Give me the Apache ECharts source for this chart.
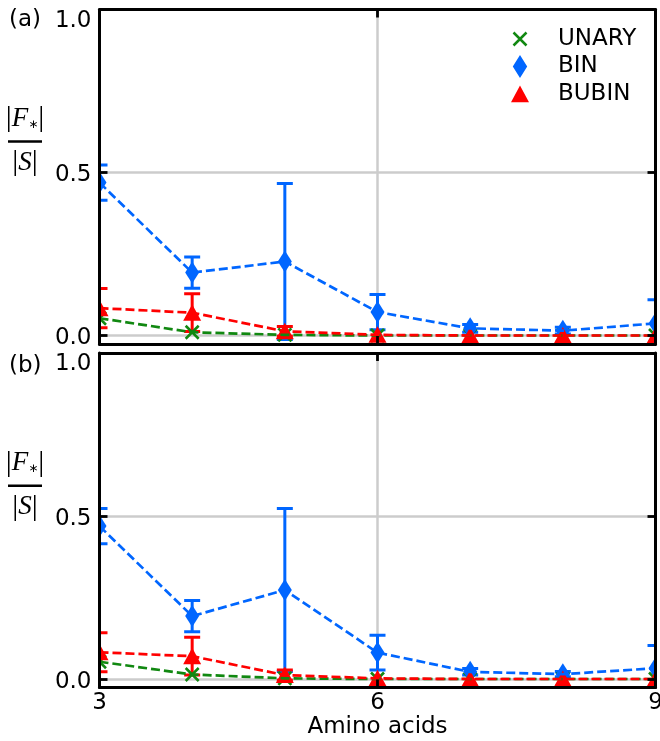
<!DOCTYPE html>
<html><head><meta charset="utf-8">
<script src="https://cdn.jsdelivr.net/npm/echarts@6/dist/echarts.min.js"></script>
<style>html,body{margin:0;padding:0;background:#fff}#c{width:660px;height:741px}</style>
</head><body><div id="c"></div>
<script>
// ---- data ----
const aminoAcids = [3, 4, 5, 6, 7, 8, 9];
const xTicks = [3, 6, 9];
const yTicks = [0, 0.5, 1.0];

const unaryA    = [0.053, 0.010, 0.002, 0.000, 0.000, 0.000, 0.000];
const unaryErrA = [0, 0, 0, 0, 0, 0, 0];
const binA      = [0.469, 0.193, 0.227, 0.072, 0.022, 0.015, 0.037];
const binErrA   = [0.054, 0.048, 0.239, 0.054, 0.012, 0.010, 0.073];
const bubinA    = [0.084, 0.070, 0.013, 0.002, 0.000, 0.000, 0.000];
const bubinErrA = [0.060, 0.058, 0.015, 0, 0, 0, 0];

const unaryB    = [0.053, 0.014, 0.002, 0.000, 0.000, 0.000, 0.000];
const unaryErrB = [0, 0, 0, 0, 0, 0, 0];
const binB      = [0.469, 0.193, 0.273, 0.081, 0.022, 0.015, 0.033];
const binErrB   = [0.054, 0.048, 0.250, 0.053, 0.010, 0.008, 0.070];
const bubinB    = [0.082, 0.070, 0.012, 0.002, 0.000, 0.000, 0.000];
const bubinErrB = [0.060, 0.058, 0.016, 0, 0, 0, 0];

const names = ['UNARY', 'BIN', 'BUBIN'];
const colors = ['#118811', '#0066ff', '#ff0000'];
const kinds = ['x', 'd', '^'];
// ---------------

const FONT = 'DejaVu Sans';
const chart = echarts.init(document.getElementById('c'), null, {renderer: 'canvas'});

function xAx(grid, pos, showLabel, name) {
  return {
    type: 'value', gridIndex: grid, position: pos, min: 3, max: 9, interval: 3, z: 5,
    name: name || '', nameLocation: 'middle', nameGap: 27,
    nameTextStyle: {fontSize: 23, color: '#000', fontFamily: FONT},
    axisLine: {show: true, onZero: false, lineStyle: {color: '#000', width: 3}},
    axisTick: {show: true, inside: true, length: 8, lineStyle: {color: '#000', width: 2.8}},
    axisLabel: {show: showLabel, margin: 4, fontSize: 23, color: '#000', fontFamily: FONT,
      showMinLabel: true, showMaxLabel: true},
    splitLine: {show: false}
  };
}
function yAx(grid, pos, showLabel) {
  return {
    type: 'value', gridIndex: grid, position: pos, min: -0.026, max: 1, z: 5,
    axisLine: {show: true, onZero: false, lineStyle: {color: '#000', width: 3}},
    axisTick: {show: true, inside: true, length: 8, customValues: yTicks, lineStyle: {color: '#000', width: 2.8}},
    axisLabel: {show: showLabel, customValues: yTicks, margin: 8, fontSize: 23, color: '#000', fontFamily: FONT,
      showMinLabel: true, showMaxLabel: true,
      formatter: function (v) { return (v === 1 ? '{t|' : '{n|') + v.toFixed(1) + '}'; },
      rich: {
        t: {padding: [23, 0, 0, 0], fontSize: 23, color: '#000', fontFamily: FONT},
        n: {padding: [6, 0, 0, 0], fontSize: 23, color: '#000', fontFamily: FONT}
      }},
    splitLine: {show: false}
  };
}

function errRender(color) {
  return function (params, api) {
    const x = api.value(0), y = api.value(1), e = api.value(2);
    if (!e) return null;
    const t = api.coord([x, y + e]), b = api.coord([x, y - e]);
    const cw = 8;
    const st = {stroke: color, lineWidth: 3};
    return {type: 'group', children: [
      {type: 'line', shape: {x1: t[0], y1: t[1], x2: b[0], y2: b[1]}, style: st},
      {type: 'line', shape: {x1: t[0] - cw, y1: t[1], x2: t[0] + cw, y2: t[1]}, style: st},
      {type: 'line', shape: {x1: b[0] - cw, y1: b[1], x2: b[0] + cw, y2: b[1]}, style: st}
    ]};
  };
}
function markerRender(kind, color) {
  return function (params, api) {
    const p = api.coord([api.value(0), api.value(1)]);
    if (kind === 'x') {
      const a = 6.5, st = {stroke: color, lineWidth: 2.6};
      return {type: 'group', children: [
        {type: 'line', shape: {x1: p[0] - a, y1: p[1] - a, x2: p[0] + a, y2: p[1] + a}, style: st},
        {type: 'line', shape: {x1: p[0] - a, y1: p[1] + a, x2: p[0] + a, y2: p[1] - a}, style: st}
      ]};
    }
    if (kind === 'd') {
      return {type: 'polygon', shape: {points: [[p[0], p[1] - 11], [p[0] + 7, p[1]], [p[0], p[1] + 11], [p[0] - 7, p[1]]]},
        style: {fill: color}};
    }
    return {type: 'polygon', shape: {points: [[p[0], p[1] - 8.5], [p[0] + 9, p[1] + 8], [p[0] - 9, p[1] + 8]]},
      style: {fill: color}};
  };
}

function panelSeries(axisIdx, vals, errs) {
  const out = [];
  for (let i = 0; i < 3; i++) {
    out.push({
      type: 'custom', xAxisIndex: axisIdx, yAxisIndex: axisIdx, clip: true, silent: true, z: 2,
      renderItem: errRender(colors[i]),
      encode: {x: 0, y: 1},
      data: aminoAcids.map((x, j) => [x, vals[i][j], errs[i][j]])
    });
  }
  for (let i = 0; i < 3; i++) {
    const line = {
      type: 'line', xAxisIndex: axisIdx, yAxisIndex: axisIdx, symbol: 'none', silent: true, z: 2, clip: true,
      lineStyle: {color: colors[i], width: 2.7, type: [9, 4], cap: 'butt'},
      data: aminoAcids.map((x, j) => [x, vals[i][j]])
    };
    if (i === 0) {
      line.markLine = {
        silent: true, symbol: ['none', 'none'], label: {show: false}, z: 1, animation: false,
        emphasis: {disabled: true},
        lineStyle: {color: '#cccccc', width: 2.5, type: 'solid'},
        data: xTicks.map(v => ({xAxis: v})).concat(yTicks.map(v => ({yAxis: v})))
      };
    }
    out.push(line);
    out.push({
      type: 'custom', name: names[i], xAxisIndex: axisIdx, yAxisIndex: axisIdx, clip: true, silent: true, z: 2,
      itemStyle: {color: colors[i]},
      renderItem: markerRender(kinds[i], colors[i]),
      encode: {x: 0, y: 1},
      data: aminoAcids.map((x, j) => [x, vals[i][j]])
    });
  }
  return out;
}

const pad = 'M-12,-12L-11.99,-12L-12,-11.99Z M12,12L11.99,12L12,11.99Z ';
const xIcon = 'path://' + pad + 'M-5.616,-7.384L7.384,5.616L5.616,7.384L-7.384,-5.616Z M-5.616,7.384L-7.384,5.616L5.616,-7.384L7.384,-5.616Z';
const dIcon = 'path://' + pad + 'M0,-11.5L7.2,0L0,11.5L-7.2,0Z';
const tIcon = 'path://' + pad + 'M0,-8.5L9,8.3L-9,8.3Z';

function yLabel(cy) {
  return [
    {type: 'text', x: 25, y: cy - 23, z: 10, style: {
      text: '{b||}{f|F}{s|∗}{b||}', align: 'center', verticalAlign: 'middle',
      rich: {
        b: {fontFamily: 'Liberation Serif', fontSize: 30, fill: '#000'},
        f: {fontFamily: 'Liberation Serif', fontStyle: 'italic', fontSize: 27, fill: '#000'},
        s: {fontFamily: FONT, fontSize: 12, padding: [13, 0, 0, 0], fill: '#000'}
      }}},
    {type: 'line', z: 10, shape: {x1: 8, y1: cy, x2: 42, y2: cy}, style: {stroke: '#000', lineWidth: 2.6}},
    {type: 'text', x: 25, y: cy + 21, z: 10, style: {
      text: '{b||}{f|S}{b||}', align: 'center', verticalAlign: 'middle',
      rich: {
        b: {fontFamily: 'Liberation Serif', fontSize: 30, fill: '#000'},
        f: {fontFamily: 'Liberation Serif', fontStyle: 'italic', fontSize: 27, fill: '#000'}
      }}}
  ];
}

const option = {
  animation: false,
  backgroundColor: '#fff',
  grid: [
    {left: 99.5, top: 9.5, width: 556, height: 334.5, outerBoundsMode: 'none', containLabel: false},
    {left: 99.5, top: 353, width: 556, height: 334.5, outerBoundsMode: 'none', containLabel: false}
  ],
  xAxis: [xAx(0, 'bottom', false), xAx(0, 'top', false), xAx(1, 'bottom', true, 'Amino acids'), xAx(1, 'top', false)],
  yAxis: [yAx(0, 'left', true), yAx(0, 'right', false), yAx(1, 'left', true), yAx(1, 'right', false)],
  legend: {
    data: [{name: 'UNARY', icon: xIcon}, {name: 'BIN', icon: dIcon}, {name: 'BUBIN', icon: tIcon}],
    orient: 'vertical', left: 508, top: 27, itemWidth: 24, itemHeight: 24, itemGap: 3.5,
    symbolKeepAspect: true, selectedMode: false, padding: 0,
    textStyle: {fontSize: 23, fontFamily: FONT, color: '#000', padding: [0, 0, 0, 21]}
  },
  graphic: [
    {type: 'text', x: 9, y: 20.5, z: 10, style: {text: '(a)', fontSize: 23, fontFamily: FONT, fill: '#000', verticalAlign: 'middle'}},
    {type: 'text', x: 9, y: 366, z: 10, style: {text: '(b)', fontSize: 23, fontFamily: FONT, fill: '#000', verticalAlign: 'middle'}}
  ].concat(yLabel(141.5)).concat(yLabel(485.7)),
  series: panelSeries(0, [unaryA, binA, bubinA], [unaryErrA, binErrA, bubinErrA])
    .concat(panelSeries(2, [unaryB, binB, bubinB], [unaryErrB, binErrB, bubinErrB]))
};
chart.setOption(option);
</script>
</body></html>
